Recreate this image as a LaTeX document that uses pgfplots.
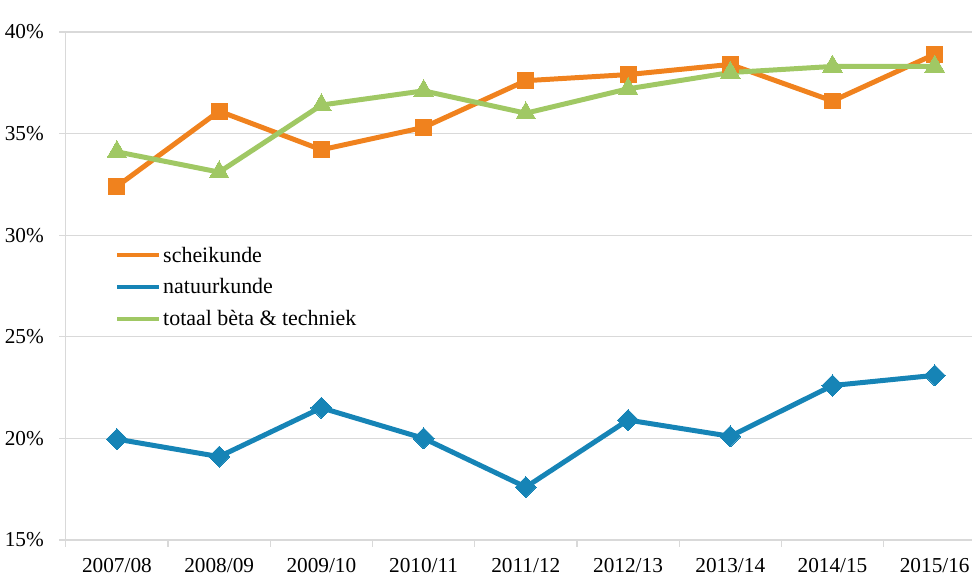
\documentclass[border=0pt]{standalone}
\usepackage{pgfplots}
\pgfplotsset{compat=1.18}
\usepackage{fontspec}
\setmainfont{Liberation Serif}
\definecolor{schei}{RGB}{240,130,30}
\definecolor{natuur}{RGB}{22,132,182}
\definecolor{totaal}{RGB}{160,200,100}
\definecolor{gridc}{RGB}{217,217,217}

\begin{document}
\begin{tikzpicture}
\begin{axis}[
    name=ax,
    scale only axis,
    width=681pt, height=382pt,
    xmin=-0.5, xmax=8.36,
    ymin=15, ymax=40,
    axis x line*=bottom, axis y line*=left,
    axis line style={draw=gridc, line width=0.9pt},
    xtick={0,...,8},
    xticklabels={2007/08,2008/09,2009/10,2010/11,2011/12,2012/13,2013/14,2014/15,2015/16},
    major x tick style={draw=none},
    minor xtick={-0.5,0.5,...,7.5},
    minor x tick style={draw=gridc, line width=0.9pt},
    ytick={15,20,25,30,35,40},
    yticklabels={15\%,20\%,25\%,30\%,35\%,40\%},
    major y tick style={draw=gridc, line width=0.9pt},
    tick align=outside,
    major tick length=5pt,
    minor tick length=5pt,
    ymajorgrids=true,
    grid style={draw=gridc, line width=0.9pt},
    tick label style={font=\fontsize{16}{19}\selectfont, text=black},
    xticklabel style={yshift=-5pt},
    yticklabel style={xshift=-8pt},
    clip=false,
    legend style={at={(0.05,0.588)}, anchor=north west, draw=none, fill=none,
      font=\fontsize{16.5}{19}\selectfont, row sep=7pt, cells={anchor=west}},
    legend image code/.code={\draw[#1, mark=none, line width=3pt] (0pt,0pt) -- (31pt,0pt);},
    every axis plot/.append style={line width=3.75pt, line join=round},
  ]
  \addplot[color=schei, mark=square*, mark size=6pt, mark options={line width=0pt}] coordinates {
    (0,32.4) (1,36.1) (2,34.2) (3,35.3) (4,37.6) (5,37.9) (6,38.4) (7,36.6) (8,38.9)
  };
  \addlegendentry{scheikunde}
  \addplot[color=natuur, mark=square*, mark size=5.6pt, mark options={line width=0pt, rotate=45}] coordinates {
    (0,19.96) (1,19.1) (2,21.5) (3,20.0) (4,17.6) (5,20.9) (6,20.1) (7,22.6) (8,23.1)
  };
  \addlegendentry{natuurkunde}
  \addplot[color=totaal, mark=triangle*, mark size=8.5pt, mark options={line width=0pt}] coordinates {
    (0,34.1) (1,33.1) (2,36.4) (3,37.1) (4,36.0) (5,37.2) (6,38.0) (7,38.3) (8,38.3)
  };
  \addlegendentry{totaal b\`eta \& techniek}
\end{axis}
\path (ax.south west) ++(-49.5pt,-26.25pt) coordinate (bl);
\path (ax.north east) ++(0pt,24pt) coordinate (tr);
\path (bl) rectangle (tr);
\end{tikzpicture}
\end{document}
